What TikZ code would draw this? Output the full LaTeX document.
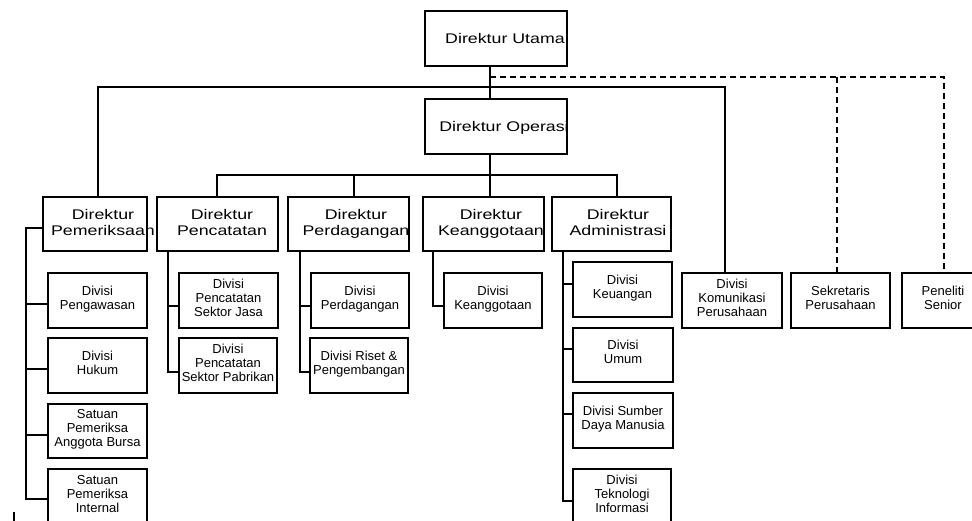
\documentclass[tikz,border=0pt]{standalone}
\usepackage{fontspec}
\usetikzlibrary{calc}
\newfontfamily\hdfont[FakeStretch=1.27]{Liberation Sans}
\newfontfamily\smfont{Liberation Sans}
% short side branch from a bracket line to the left edge of a box
\newcommand\twig[3]{\draw ($(#2.west)+(0,#3)$) -- ($(#1 |- #2.west)+(0,#3)$);}
\begin{document}
\begin{tikzpicture}[x=1pt, y=-1pt, line width=1.2pt,
  orgbox/.style={draw, rectangle, inner sep=0pt},
  headtxt/.style={font=\hdfont\fontsize{14}{16}\selectfont, align=center, inner sep=0pt, anchor=north},
  unitbox/.style={orgbox, minimum width=99pt, minimum height=55pt,
    font=\smfont\fontsize{13}{14}\selectfont, align=center,
    execute at end node={\rule[-6pt]{0pt}{0pt}}},
  dirbox/.style={orgbox, minimum height=54pt},
  staff/.style={dash pattern=on 6pt off 4pt}]
\useasboundingbox (0,0) rectangle (972,521);
\clip (0,0) rectangle (972,521);

% top management
\node[orgbox, minimum width=142pt, minimum height=55pt] (utama) at (496,38.5) {};
\node[headtxt] (utamaT) at (505,33) {Direktur Utama};
\node[orgbox, minimum width=142pt, minimum height=55pt] (operasi) at (496,126.5) {};
\node[headtxt] (operasiT) at (504,121) {Direktur Operasi};

% directors
\node[dirbox, minimum width=104pt] (pem) at (95,224) {};
\node[headtxt] (pemT) at (103,209) {Direktur\\Pemeriksaan};
\node[dirbox, minimum width=121pt] (pct) at (217.5,224) {};
\node[headtxt] (pctT) at (222,209) {Direktur\\Pencatatan};
\node[dirbox, minimum width=121pt] (pdg) at (348.5,224) {};
\node[headtxt] (pdgT) at (356,209) {Direktur\\Perdagangan};
\node[dirbox, minimum width=121pt] (agt) at (483.5,224) {};
\node[headtxt] (agtT) at (491,209) {Direktur\\Keanggotaan};
\node[dirbox, minimum width=119pt] (adm) at (611.5,224) {};
\node[headtxt] (admT) at (618,209) {Direktur\\Administrasi};

% divisions and units
\node[unitbox] (peng) at (97.5,300.5) {Divisi\\Pengawasan};
\node[unitbox] (hukum) at (97.5,365.5) {Divisi\\Hukum};
\node[unitbox, minimum height=54pt] (sapab) at (97.5,431) {Satuan\\Pemeriksa\\Anggota Bursa};
\node[unitbox] (spi) at (97.5,496.5) {Satuan\\Pemeriksa\\Internal};
\node[unitbox] (jasa) at (228.5,300.5) {Divisi\\Pencatatan\\Sektor Jasa};
\node[unitbox, minimum width=98pt] (pabrik) at (228,365.5) {Divisi\\Pencatatan\\Sektor Pabrikan};
\node[unitbox, minimum width=98pt] (dagang) at (360,300.5) {Divisi\\Perdagangan};
\node[unitbox, minimum width=98pt] (riset) at (359,365.5) {Divisi Riset \&\\Pengembangan};
\node[unitbox, minimum width=98pt] (anggota) at (493,300.5) {Divisi\\Keanggotaan};
\node[unitbox] (keu) at (622.5,289.5) {Divisi\\Keuangan};
\node[unitbox, minimum width=100pt, minimum height=54pt] (umum) at (623,355) {Divisi\\Umum};
\node[unitbox, minimum width=100pt] (sdm) at (623,420.5) {Divisi Sumber\\Daya Manusia};
\node[unitbox, minimum width=98pt] (ti) at (622,496.5) {Divisi\\Teknologi\\Informasi};
\node[unitbox, minimum width=100pt] (kom) at (732,300.5) {Divisi\\Komunikasi\\Perusahaan};
\node[unitbox] (sek) at (840.5,300.5) {Sekretaris\\Perusahaan};
\node[unitbox, minimum width=82pt] (pen) at (943,300.5) {Peneliti\\Senior};

% junction points of the reporting lines
\coordinate (jTop) at (490,87);
\coordinate (jDash) at (490,77);
\coordinate (jMid) at (490,175);
\coordinate (xPem) at (98,87);
\coordinate (xKom) at (725,87);
\coordinate (xPct) at (217,175);
\coordinate (xPdg) at (354,175);
\coordinate (xAgt) at (490,175);
\coordinate (xAdm) at (617,175);
\coordinate (xSek) at (837,77);
\coordinate (xPen) at (944,77);
\coordinate (bPem) at (26,0);
\coordinate (bPct) at (168,0);
\coordinate (bPdg) at (300,0);
\coordinate (bAgt) at (433,0);
\coordinate (bAdm) at (563,0);

% solid reporting lines
\draw (jTop |- utama.south) -- (jTop |- operasi.north);
\draw (xPem |- pem.north) -- (xPem) -- (xKom) -- (xKom |- kom.north);
\draw (jMid |- operasi.south) -- (jMid);
\draw (xPct |- pct.north) -- (xPct) -- (xAdm) -- (xAdm |- adm.north);
\draw (xPdg) -- (xPdg |- pdg.north);
\draw (xAgt) -- (xAgt |- agt.north);

% staff lines
\draw[staff] (jDash) -- (xPen) -- (xPen |- pen.north);
\draw[staff] (xSek) -- (xSek |- sek.north);

% brackets under the directors
\draw ($(pem.west)+(0,4)$) -| ($(bPem |- spi.west)+(0,2.5)$) -- ($(spi.west)+(0,2.5)$);
\twig{bPem}{peng}{3.5}
\twig{bPem}{hukum}{3.5}
\twig{bPem}{sapab}{4}

\draw (bPct |- pct.south) |- ($(pabrik.west)+(0,6.5)$);
\twig{bPct}{jasa}{5.5}

\draw (bPdg |- pdg.south) |- ($(riset.west)+(0,6.5)$);
\twig{bPdg}{dagang}{5.5}

\draw (bAgt |- agt.south) |- ($(anggota.west)+(0,5.5)$);

\draw (bAdm |- adm.south) |- ($(ti.west)+(0,4.5)$);
\twig{bAdm}{keu}{-5.5}
\twig{bAdm}{umum}{-6}
\twig{bAdm}{sdm}{-6.5}

% small mark at the lower left
\draw[line width=2pt] (14,512) -- (14,521);
\end{tikzpicture}
\end{document}
